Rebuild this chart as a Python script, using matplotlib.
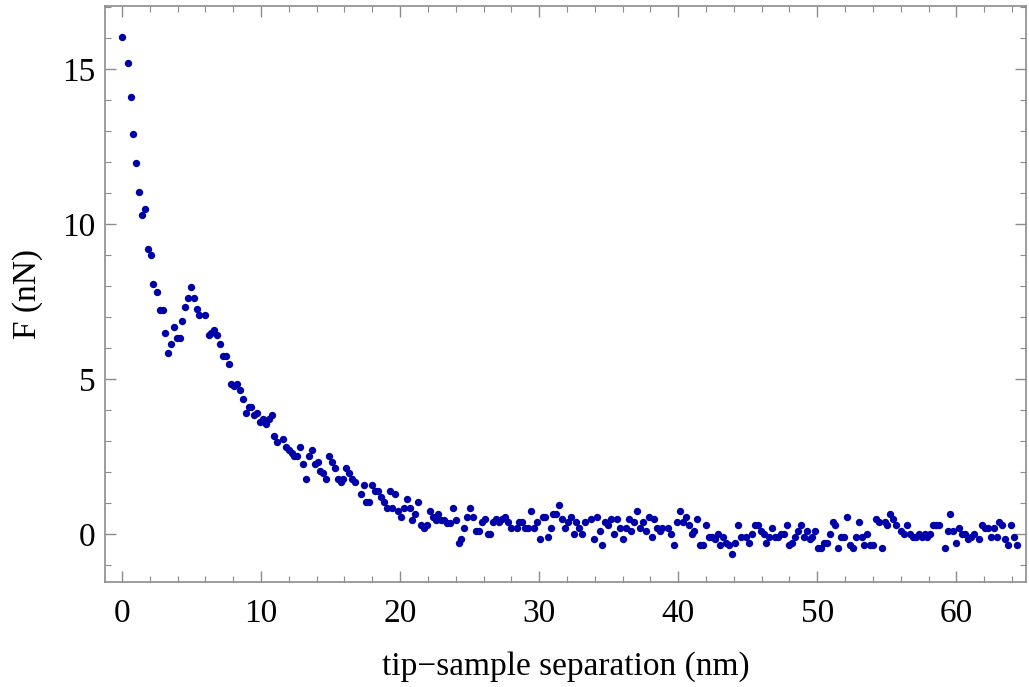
import numpy as np
import matplotlib
matplotlib.use("Agg")
import matplotlib.pyplot as plt
from matplotlib.ticker import MultipleLocator

# force vs tip-sample separation
sep_nm = [
    0.0, 0.43, 0.62, 0.81, 1.03, 1.25, 1.46, 1.65, 1.87, 2.06,
    2.27, 2.49, 2.73, 2.93, 3.12, 3.33, 3.53, 3.74, 3.93, 4.17,
    4.35, 4.56, 4.75, 4.96, 5.2, 5.37, 5.56, 5.99, 6.24, 6.42,
    6.62, 6.83, 7.04, 7.24, 7.48, 7.68, 7.86, 8.05, 8.29, 8.49,
    8.7, 8.9, 9.11, 9.3, 9.52, 9.73, 9.93, 10.14, 10.34, 10.55,
    10.77, 10.96, 11.17, 11.58, 11.8, 11.99, 12.2, 12.4, 12.6, 12.83,
    13.04, 13.24, 13.45, 13.67, 13.86, 14.07, 14.27, 14.48, 14.7, 14.9,
    15.1, 15.32, 15.52, 15.73, 15.92, 16.14, 16.35, 16.55, 16.76, 17.17,
    17.38, 17.58, 17.8, 18.0, 18.2, 18.42, 18.63, 18.83, 19.04, 19.24,
    19.45, 19.66, 19.86, 20.07, 20.29, 20.48, 20.7, 20.89, 21.1, 21.32,
    21.51, 21.73, 21.94, 22.13, 22.35, 22.57, 22.76, 22.97, 23.19, 23.38,
    23.6, 23.81, 24.0, 24.22, 24.41, 24.62, 24.84, 25.04, 25.25, 25.47,
    25.66, 25.88, 26.09, 26.31, 26.5, 26.71, 26.93, 27.14, 27.34, 27.55,
    27.77, 27.96, 28.4, 28.58, 28.8, 29.01, 29.21, 29.42, 29.64, 29.83,
    30.05, 30.26, 30.45, 30.65, 30.84, 31.03, 31.22, 31.44, 31.65, 31.87,
    32.06, 32.27, 32.5, 32.68, 32.9, 33.11, 33.31, 33.72, 33.93, 34.15,
    34.37, 34.55, 34.77, 34.96, 35.18, 35.4, 35.61, 35.81, 36.02, 36.21,
    36.43, 36.64, 36.83, 37.05, 37.27, 37.46, 37.65, 37.89, 38.08, 38.27,
    38.47, 38.66, 38.85, 39.28, 39.5, 39.71, 39.9, 40.12, 40.34, 40.55,
    40.74, 40.96, 41.15, 41.37, 41.58, 41.78, 41.99, 42.21, 42.4, 42.61,
    42.83, 43.02, 43.24, 43.45, 43.65, 43.86, 44.08, 44.27, 44.48, 44.89,
    45.11, 45.3, 45.51, 45.71, 45.92, 46.14, 46.33, 46.55, 46.76, 46.96,
    47.17, 47.39, 47.58, 47.79, 47.99, 48.2, 48.42, 48.61, 48.83, 49.01,
    49.23, 49.45, 49.64, 49.86, 50.07, 50.26, 50.48, 50.7, 50.89, 51.1,
    51.29, 51.51, 51.73, 51.94, 52.16, 52.35, 52.56, 52.75, 52.97, 53.19,
    53.38, 53.6, 53.79, 54.0, 54.22, 54.41, 54.63, 54.84, 55.04, 55.25,
    55.44, 55.66, 56.04, 56.26, 56.47, 56.67, 56.89, 57.1, 57.28, 57.5,
    57.72, 57.91, 58.13, 58.32, 58.54, 58.75, 59.16, 59.37, 59.57, 59.78,
    60.0, 60.19, 60.41, 60.63, 60.81, 61.03, 61.24, 61.65, 61.85, 62.06,
    62.28, 62.47, 62.68, 62.9, 63.09, 63.31, 63.53, 63.72, 63.94, 64.12,
    64.34,
]
force_nN = [
    16.05, 15.2, 14.1, 12.9, 11.97, 11.03, 10.3, 10.48, 9.18, 9.0,
    8.08, 7.79, 7.23, 7.23, 6.49, 5.85, 6.13, 6.69, 6.31, 6.31,
    6.87, 7.33, 7.61, 7.98, 7.61, 7.25, 7.05, 7.05, 6.41, 6.49,
    6.59, 6.41, 6.13, 5.75, 5.75, 5.47, 4.83, 4.78, 4.83, 4.65,
    4.36, 3.9, 4.1, 4.1, 3.82, 3.9, 3.62, 3.72, 3.53, 3.72,
    3.82, 3.16, 2.98, 3.06, 2.8, 2.7, 2.6, 2.52, 2.52, 2.8,
    2.24, 1.76, 2.52, 2.7, 2.24, 2.32, 2.04, 1.96, 1.76, 2.52,
    2.32, 2.14, 1.76, 1.67, 1.76, 2.14, 1.95, 1.76, 1.67, 1.3,
    1.57, 1.02, 1.02, 1.57, 1.39, 1.39, 1.2, 1.02, 0.83, 1.39,
    0.83, 1.3, 0.74, 0.56, 0.83, 1.12, 0.83, 0.46, 0.65, 1.02,
    0.28, 0.18, 0.28, 0.74, 0.56, 0.46, 0.65, 0.46, 0.46, 0.36,
    0.36, 0.83, 0.46, -0.28, -0.18, 0.18, 0.56, 0.83, 0.56, 0.1,
    0.1, 0.38, 0.47, 0.0, 0.0, 0.38, 0.47, 0.38, 0.47, 0.56,
    0.38, 0.19, 0.19, 0.38, 0.38, 0.19, 0.19, 0.75, 0.19, 0.38,
    -0.18, 0.56, 0.56, -0.09, 0.19, 0.65, 0.65, 0.94, 0.47, 0.19,
    0.38, 0.56, 0.0, 0.38, 0.19, 0.0, 0.38, 0.47, -0.18, 0.56,
    0.1, -0.37, 0.38, 0.28, 0.47, 0.0, 0.47, 0.19, -0.18, 0.19,
    0.47, 0.1, 0.38, 0.75, 0.19, 0.38, 0.1, 0.56, -0.09, 0.47,
    0.19, 0.1, 0.19, 0.19, 0.0, -0.37, 0.38, 0.75, 0.38, 0.56,
    0.28, 0.0, 0.1, 0.47, -0.37, -0.37, 0.28, -0.09, -0.09, -0.18,
    0.0, -0.37, -0.09, -0.28, -0.37, -0.65, -0.28, 0.28, -0.09, -0.09,
    -0.28, 0.0, 0.28, 0.28, 0.1, 0.0, -0.28, -0.09, 0.19, -0.09,
    -0.09, 0.0, 0.0, 0.28, -0.37, -0.28, -0.09, 0.1, 0.28, -0.09,
    0.1, -0.18, -0.09, 0.1, -0.46, -0.46, -0.28, -0.28, 0.0, 0.38,
    0.28, -0.46, -0.09, -0.09, 0.56, -0.37, -0.46, -0.09, 0.38, -0.09,
    -0.37, 0.0, -0.37, -0.37, 0.47, 0.38, -0.46, 0.38, 0.28, 0.65,
    0.47, 0.28, 0.1, 0.0, 0.28, 0.0, -0.09, -0.09, 0.0, -0.09,
    0.0, -0.09, 0.0, 0.28, 0.28, 0.28, -0.46, 0.1, 0.65, 0.1,
    -0.28, 0.19, 0.0, 0.0, -0.18, -0.09, 0.0, -0.18, 0.28, 0.19,
    0.19, -0.09, 0.19, -0.09, 0.38, 0.28, -0.18, -0.37, 0.28, -0.09,
    -0.37,
]
x_ticks = [0, 10, 20, 30, 40, 50, 60]
y_ticks = [0, 5, 10, 15]

plt.rcParams['font.family'] = ['Liberation Serif', 'DejaVu Serif']
frame_col = "#8c8c8c"

fig = plt.figure(figsize=(10.29, 6.87), dpi=100)
ax = fig.add_axes([0.102, 0.153, 0.895, 0.838])

ax.plot(sep_nm, force_nN, linestyle="none", marker="o", markersize=5.3,
        color="#0000aa", markeredgewidth=0)

ax.set_xlim(-1.22, 65.0)
ax.set_ylim(-1.55, 17.03)
ax.set_xticks(x_ticks)
ax.set_yticks(y_ticks)
ax.xaxis.set_minor_locator(MultipleLocator(2))
ax.yaxis.set_minor_locator(MultipleLocator(1))

for s in ax.spines.values():
    s.set_color(frame_col)
    s.set_linewidth(1.2)
ax.tick_params(which="both", direction="in", top=True, right=True,
               color=frame_col, labelsize=24, labelcolor="black")
ax.tick_params(which="major", length=8, width=1.0)
ax.tick_params(which="minor", length=4.5, width=0.8)
ax.tick_params(axis="x", which="major", pad=12)
ax.tick_params(axis="y", which="major", pad=7)

ax.set_xlabel("tip\u2212sample separation (nm)", fontsize=24, labelpad=16)
ax.set_ylabel("F (nN)", fontsize=24, labelpad=14)

plt.savefig("out.png", dpi=100)
